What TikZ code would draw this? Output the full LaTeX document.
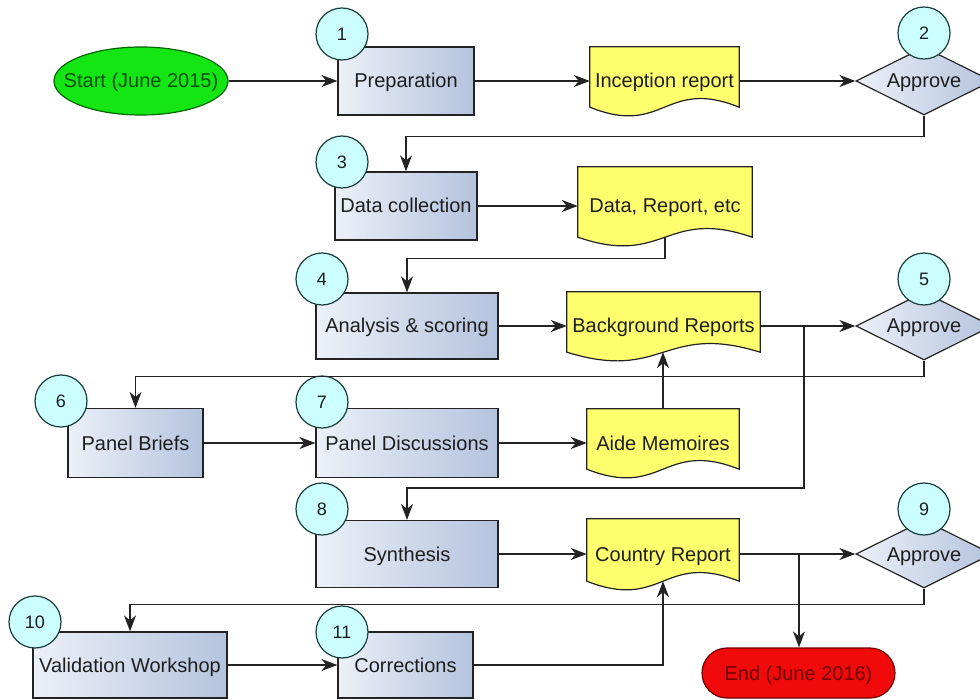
\documentclass[tikz,border=0pt]{standalone}
\usepackage{fontspec}
\setmainfont{Liberation Sans}
\usetikzlibrary{shapes.geometric,arrows.meta,backgrounds}
\definecolor{ln}{RGB}{35,35,35}
\definecolor{boxL}{RGB}{236,240,248}
\definecolor{boxR}{RGB}{180,195,222}
\definecolor{docY}{RGB}{255,255,110}
\definecolor{circF}{RGB}{204,255,255}
\definecolor{circD}{RGB}{25,60,60}
\definecolor{startG}{RGB}{20,230,20}
\definecolor{startD}{RGB}{0,100,0}
\definecolor{startT}{RGB}{10,80,10}
\definecolor{endR}{RGB}{240,10,10}
\definecolor{endD}{RGB}{110,0,0}
\definecolor{txt}{RGB}{30,30,30}
\tikzset{
  every node/.style={text=txt},
  centred/.style={text height=14.5pt, text depth=0.5pt},
  procbox/.style={rectangle, centred, draw=ln, line width=1.2pt, left color=boxL, right color=boxR, inner sep=1pt},
  decbox/.style={diamond, centred, aspect=2, draw=ln, line width=1.2pt, left color=boxL, right color=boxR, inner sep=0pt, minimum width=136pt, minimum height=68pt},
  docnode/.style={rectangle, centred, inner sep=1pt},
  docshape/.style={draw=ln, line width=1.2pt, fill=docY},
  numcirc/.style={circle, draw=circD, line width=1.2pt, fill=circF, minimum size=52pt, inner sep=0pt, font=\fontsize{18}{20}\selectfont},
  arr/.style={draw=ln, line width=1.3pt, -{Stealth[length=16pt,width=12pt,inset=5pt]}},
  ln/.style={draw=ln, line width=1.3pt}
}
\newcommand\docpath[1]{\draw[docshape] (#1.north west) -- (#1.north east) -- ([yshift=8pt]#1.south east) .. controls ([yshift=38pt]#1.south) and ([yshift=-22pt]#1.south) .. ([yshift=8pt]#1.south west) -- cycle;}
\begin{document}
\begin{tikzpicture}[x=1pt,y=-1pt,font=\fontsize{20}{24}\selectfont]
\useasboundingbox (0,0) rectangle (980,700);

% row 1
\node[ellipse, centred, draw=startD, line width=1.2pt, fill=startG, minimum width=174pt, minimum height=68pt, inner sep=0pt, text=startT] (start) at (141,81) {\makebox[0pt]{Start (June 2015)}};
\node[procbox, minimum width=136pt, minimum height=68pt] (prep) at (406,81) {Preparation};
\node[docnode, minimum width=149pt, minimum height=68pt] (inc) at (664.5,81) {Inception report};
\node[decbox] (ap2) at (924,81) {Approve};

% row 2
\node[procbox, minimum width=142pt, minimum height=68pt] (dc) at (406,206) {Data collection};
\node[docnode, minimum width=174pt, minimum height=78pt] (data) at (665,206) {Data, Report, etc};

% row 3
\node[procbox, minimum width=182pt, minimum height=66pt] (ana) at (407,326) {Analysis \& scoring};
\node[docnode, minimum width=193pt, minimum height=68pt] (bg) at (663.5,326) {Background Reports};
\node[decbox] (ap5) at (924,326) {Approve};

% row 4
\node[procbox, minimum width=135pt, minimum height=69pt] (pb) at (135.5,443) {Panel Briefs};
\node[procbox, minimum width=182pt, minimum height=69pt] (pd) at (407,443) {Panel Discussions};
\node[docnode, minimum width=152pt, minimum height=68pt] (aide) at (663,443) {Aide Memoires};

% row 5
\node[procbox, minimum width=182pt, minimum height=67pt] (syn) at (407,554) {Synthesis};
\node[docnode, minimum width=152pt, minimum height=70pt] (cr) at (663,554) {Country Report};
\node[decbox] (ap9) at (924,554) {Approve};

% row 6
\node[procbox, minimum width=194pt, minimum height=66pt] (vw) at (130,665) {Validation Workshop};
\node[procbox, minimum width=135pt, minimum height=66pt] (cor) at (405.5,665) {Corrections};
\node[rectangle, centred, rounded corners=25pt, draw=endD, line width=1.2pt, fill=endR, minimum width=193pt, minimum height=50pt, text=endD] (end) at (798.5,673) {End (June 2016)};

% document shapes
\begin{scope}[on background layer]
\docpath{inc}
\docpath{data}
\docpath{bg}
\docpath{aide}
\docpath{cr}
\end{scope}

% number circles
\node[numcirc] (c1) at (342,34) {1};
\node[numcirc] (c2) at (924,33) {2};
\node[numcirc] (c3) at (342,162) {3};
\node[numcirc] (c4) at (322,279) {4};
\node[numcirc] (c5) at (924,279) {5};
\node[numcirc] (c6) at (61,401) {6};
\node[numcirc] (c7) at (322,402) {7};
\node[numcirc] (c8) at (322,509) {8};
\node[numcirc] (c9) at (924,509) {9};
\node[numcirc] (c10) at (35,622) {10};
\node[numcirc] (c11) at (342,632) {11};

% helper coordinates
\coordinate (datab) at ([yshift=8pt]data.south);
\coordinate (bgb) at ([yshift=8pt]bg.south);
\coordinate (crb) at ([yshift=8pt]cr.south);
\coordinate (j1) at (804,326);
\coordinate (j1b) at (804,488);
\coordinate (j2) at (799,554);

% connectors
\draw[arr] (start) -- (prep);
\draw[arr] (prep) -- (inc);
\draw[arr] (inc) -- (ap2);
\draw[arr] (ap2.south) -- ++(0,21) -| (dc.north);
\draw[arr] (dc) -- (data.west |- dc);
\draw[arr] (datab) -- ++(0,21) -| (ana.north);
\draw[arr] (ana) -- (bg);
\draw[arr] (bg) -- (ap5);
\draw[arr] (j1) -- (j1b) -| (syn.north);
\draw[arr] (ap5.south) -- ++(0,16) -| (pb.north);
\draw[arr] (pb) -- (pd);
\draw[arr] (pd) -- (aide);
\draw[arr] (aide.north) -- (aide.north |- bgb);
\draw[arr] (syn) -- (cr);
\draw[arr] (cr) -- (ap9);
\draw[arr] (j2) -- (end.north -| j2);
\draw[arr] (ap9.south) -- ++(0,16) -| (vw.north);
\draw[arr] (vw) -- (cor);
\draw[arr] (cor.east) -| (crb);
\end{tikzpicture}
\end{document}
